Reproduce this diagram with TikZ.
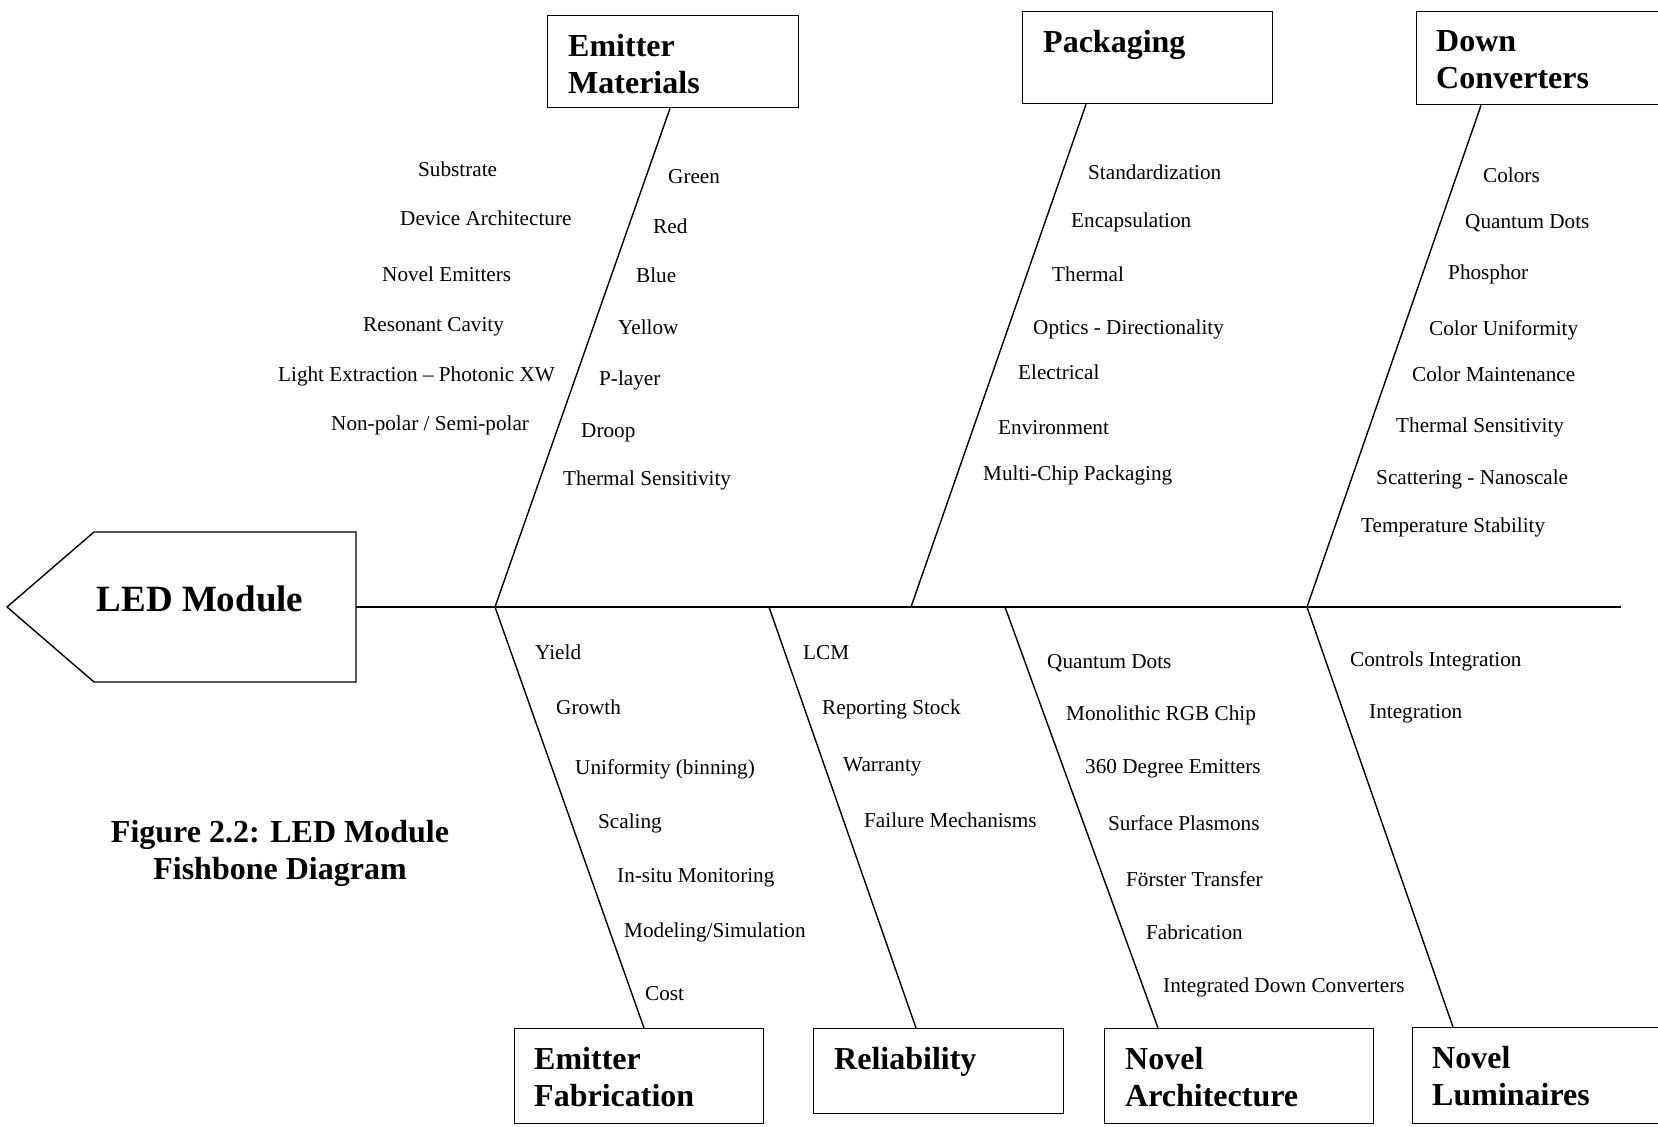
\documentclass[tikz,border=0pt]{standalone}
\usepackage{fontspec}
\setmainfont{Liberation Serif}
\usetikzlibrary{positioning, calc}

\begin{document}
\begin{tikzpicture}[
    x=1pt, y=-1pt,
    bone/.style={line width=1.4pt},
    catbox/.style={draw, line width=1.4pt, minimum width=250pt, minimum height=92pt,
                   anchor=north west, inner sep=0pt},
    cattext/.style={font=\fontsize{32}{37}\selectfont\bfseries, align=left, inner sep=0pt},
    cause/.style={font=\fontsize{21.2}{25}\selectfont, anchor=west, inner sep=0pt,
                  text height=15pt, text depth=0pt},
    headtext/.style={font=\fontsize{37}{40}\selectfont\bfseries, inner sep=0pt},
    caption/.style={font=\fontsize{32}{37}\selectfont\bfseries, align=center, inner sep=0pt},
]
\useasboundingbox (0,0) rectangle (1658,1127);
\clip (0,0) rectangle (1658,1127);

% ===================== HEAD & SPINE =====================
\draw[bone] (7,607) -- (94,532) -- (356,532) -- (356,682) -- (94,682) -- cycle;
\node[headtext] (led) at (200,599) {LED Module};
\coordinate (head) at (356,607);
\coordinate (tail) at (1621,607);
\draw[bone] (head) -- (tail);

% junctions on the spine
\coordinate (j1) at (495,607);
\coordinate (j2) at (769,607);
\coordinate (j3) at (911,607);
\coordinate (j4) at (1005,607);
\coordinate (j5) at (1307,607);

% ===================== CATEGORY BOXES =====================
\node[catbox, minimum width=251pt] (em) at (547,15) {};
\node[catbox] (pk) at (1022,11) {};
\node[catbox, minimum height=93pt] (dc) at (1416,11) {};
\node[catbox, minimum width=249pt, minimum height=95pt] (ef) at (514,1028) {};
\node[catbox, minimum height=85pt] (rl) at (813,1028) {};
\node[catbox, minimum width=269pt, minimum height=95pt] (na) at (1104,1028) {};
\node[catbox, minimum height=96pt] (nl) at (1412,1027) {};

\node[cattext, below right=19pt and 21pt of em.north west] (emt) {Emitter\\Materials};
\node[cattext, below right=19pt and 21pt of pk.north west] (pkt) {Packaging};
\node[cattext, below right=19pt and 20pt of dc.north west] (dct) {Down\\Converters};
\node[cattext, below right=19pt and 20pt of ef.north west] (eft) {Emitter\\Fabrication};
\node[cattext, below right=19pt and 21pt of rl.north west] (rlt) {Reliability};
\node[cattext, below right=19pt and 21pt of na.north west] (nat) {Novel\\Architecture};
\node[cattext, below right=19pt and 20pt of nl.north west] (nlt) {Novel\\Luminaires};

% ===================== BONES =====================
\draw[bone] (j1) -- ([xshift=123pt]em.south west);
\draw[bone] (j3) -- ([xshift=64pt]pk.south west);
\draw[bone] (j5) -- ([xshift=65pt]dc.south west);
\draw[bone] (j1) -- ([xshift=130pt]ef.north west);
\draw[bone] (j2) -- ([xshift=103pt]rl.north west);
\draw[bone] (j4) -- ([xshift=54pt]na.north west);
\draw[bone] (j5) -- ([xshift=41pt]nl.north west);

% ===================== CAUSES: UPPER =====================
% Emitter Materials, left of the bone
\foreach \x/\y/\t [count=\i] in {418/169/Substrate, 400/218/Device Architecture,
    382/274/Novel Emitters, 363/324/Resonant Cavity,
    278/374/Light Extraction – Photonic XW, 331/423/{Non-polar / Semi-polar}}
    \node[cause] (eml\i) at (\x,\y) {\t};
% Emitter Materials, right of the bone
\foreach \x/\y/\t [count=\i] in {668/176/Green, 653/226/Red, 636/275/Blue,
    618/327/Yellow, 599/378/P-layer, 581/430/Droop, 563/478/Thermal Sensitivity}
    \node[cause] (emr\i) at (\x,\y) {\t};

% Packaging
\foreach \x/\y/\t [count=\i] in {1088/172/Standardization, 1071/220/Encapsulation,
    1052/274/Thermal, 1033/327/Optics - Directionality, 1018/372/Electrical,
    998/427/Environment, 983/473/Multi-Chip Packaging}
    \node[cause] (pk\i) at (\x,\y) {\t};

% Down Converters
\foreach \x/\y/\t [count=\i] in {1483/175/Colors, 1465/221/Quantum Dots,
    1448/272/Phosphor, 1429/328/Color Uniformity, 1412/374/Color Maintenance,
    1396/425/Thermal Sensitivity, 1376/477/Scattering - Nanoscale,
    1361/525/Temperature Stability}
    \node[cause] (dc\i) at (\x,\y) {\t};

% ===================== CAUSES: LOWER =====================
% Emitter Fabrication
\foreach \x/\y/\t [count=\i] in {535/652/Yield, 556/707/Growth,
    575/767/Uniformity (binning), 598/821/Scaling, 617/875/In-situ Monitoring,
    624/930/{Modeling/Simulation}, 645/993/Cost}
    \node[cause] (ef\i) at (\x,\y) {\t};

% Reliability
\foreach \x/\y/\t [count=\i] in {803/652/LCM, 822/707/Reporting Stock,
    843/764/Warranty, 864/820/Failure Mechanisms}
    \node[cause] (rl\i) at (\x,\y) {\t};

% Novel Architecture
\foreach \x/\y/\t [count=\i] in {1047/661/Quantum Dots, 1066/713/Monolithic RGB Chip,
    1085/766/360 Degree Emitters, 1108/823/Surface Plasmons,
    1126/879/Förster Transfer, 1146/932/Fabrication,
    1163/985/Integrated Down Converters}
    \node[cause] (na\i) at (\x,\y) {\t};

% Novel Luminaires
\foreach \x/\y/\t [count=\i] in {1350/659/Controls Integration, 1369/711/Integration}
    \node[cause] (nl\i) at (\x,\y) {\t};

% ===================== CAPTION =====================
\node[caption] (cap) at (280,853) {Figure 2.2: LED Module\\Fishbone Diagram};

\end{tikzpicture}
\end{document}
